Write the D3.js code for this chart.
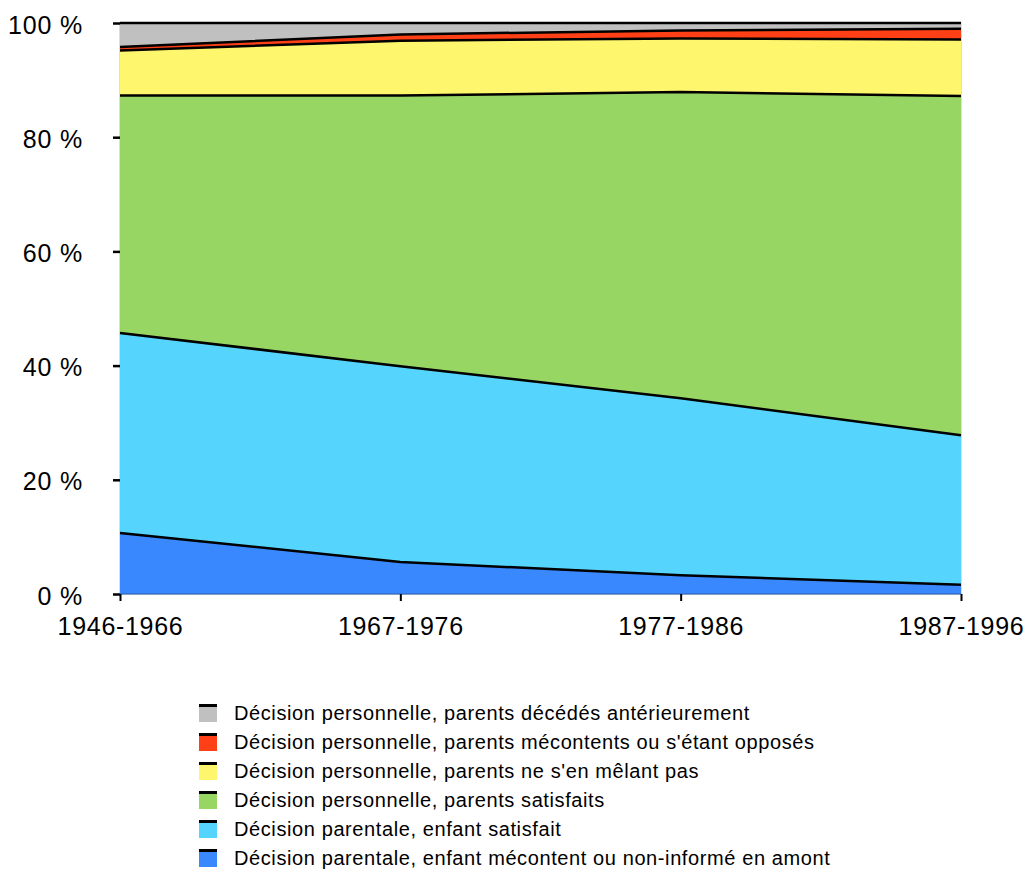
<!DOCTYPE html>
<html>
<head>
<meta charset="utf-8">
<script src="https://cdn.jsdelivr.net/npm/d3@7"></script>
<style>
  body { margin: 0; background: #fff; }
  svg { font-family: "Liberation Sans", Arial, Helvetica, sans-serif; }
</style>
</head>
<body>
<svg></svg>
<script>
// periods on the x axis
const periods = ["1946-1966", "1967-1976", "1977-1986", "1987-1996"];

// series, bottom to top (percent of each period)
const seriesNames = [
    "Décision parentale, enfant mécontent ou non-informé en amont",
    "Décision parentale, enfant satisfait",
    "Décision personnelle, parents satisfaits",
    "Décision personnelle, parents ne s'en mêlant pas",
    "Décision personnelle, parents mécontents ou s'étant opposés",
    "Décision personnelle, parents décédés antérieurement"
];
const parentMecontent = [10.7, 5.6, 3.3, 1.6];
const parentSatisfait = [35.0, 34.3, 31.0, 26.2];
const persoSatisfaits = [41.6, 47.4, 53.6, 59.4];
const persoNeutres = [7.9, 9.6, 9.4, 9.9];
const persoOpposes = [0.6, 1.1, 1.4, 1.9];
const persoDecedes = [4.2, 2.0, 1.3, 1.0];

const yTicks = [0, 20, 40, 60, 80, 100];

const colors = ["#3a88fe", "#55d5fd", "#97d663", "#fef66c", "#ff4016", "#c0c0c0"];

const svgWidth = 1028;
const svgHeight = 871;
const svg = d3.select("svg")
    .attr("width", svgWidth)
    .attr("height", svgHeight);

const margin = {top: 23, left: 120};
const width = 841;
const height = 571;

const g = svg.append("g")
    .attr("transform", "translate(" + margin.left + "," + margin.top + ")");

const x = d3.scalePoint()
    .domain(periods)
    .range([0, width]);

const y = d3.scaleLinear()
    .domain([0, 100])
    .range([height, 0]);

const columns = [parentMecontent, parentSatisfait, persoSatisfaits, persoNeutres, persoOpposes, persoDecedes];
const data = periods.map((p, i) => {
    const row = {period: p};
    seriesNames.forEach((name, k) => row[name] = columns[k][i]);
    return row;
});

const stacked = d3.stack().keys(seriesNames)(data);

const area = d3.area()
    .x(d => x(d.data.period))
    .y0(d => y(d[0]))
    .y1(d => y(d[1]));

const topLine = d3.line()
    .x(d => x(d.data.period))
    .y(d => y(d[1]));

// plot frame (thin grey)
g.append("rect")
    .attr("width", width)
    .attr("height", height)
    .attr("fill", "none")
    .attr("stroke", "#bbb")
    .attr("stroke-width", 1);

g.selectAll(".layer")
    .data(stacked)
    .enter().append("path")
    .attr("class", "layer")
    .attr("d", area)
    .attr("fill", (d, i) => colors[i]);

g.selectAll(".edge")
    .data(stacked)
    .enter().append("path")
    .attr("class", "edge")
    .attr("d", topLine)
    .attr("fill", "none")
    .attr("stroke", "#000")
    .attr("stroke-width", 2.5);

// bottom axis line
g.append("line")
    .attr("x1", 0).attr("x2", width)
    .attr("y1", height).attr("y2", height)
    .attr("stroke", "#2b5fb0")
    .attr("stroke-width", 1);

// x axis
const xAxis = g.append("g")
    .attr("transform", "translate(0," + height + ")")
    .call(d3.axisBottom(x).tickSize(7).tickPadding(16));
xAxis.select(".domain").remove();
xAxis.selectAll("line").attr("stroke", "#000").attr("stroke-width", 2);
xAxis.selectAll("text")
    .attr("font-size", 25)
    .attr("letter-spacing", 0.7)
    .attr("fill", "#000")
    .attr("font-family", "Liberation Sans, Arial, sans-serif");

// y axis
const yAxis = g.append("g")
    .call(d3.axisLeft(y).tickValues(yTicks).tickSize(7).tickPadding(30)
        .tickFormat(d => d + " %"));
yAxis.select(".domain").remove();
yAxis.selectAll("line").attr("stroke", "#000").attr("stroke-width", 2.5);
yAxis.selectAll("text")
    .attr("font-size", 25)
    .attr("letter-spacing", 0.8)
    .attr("fill", "#000")
    .attr("dy", "0.4em")
    .attr("font-family", "Liberation Sans, Arial, sans-serif");

// legend, top entry is the top layer
const legend = svg.append("g")
    .attr("transform", "translate(199,704)")
    .selectAll("g")
    .data(seriesNames.map((n, i) => ({name: n, color: colors[i]})).reverse())
    .enter().append("g")
    .attr("transform", (d, i) => "translate(0," + i * 29 + ")");

legend.append("rect")
    .attr("width", 18)
    .attr("height", 18)
    .attr("fill", d => d.color);

legend.append("rect")
    .attr("width", 18)
    .attr("height", 3)
    .attr("fill", "#000");

legend.append("text")
    .attr("x", 35)
    .attr("y", 9)
    .attr("dy", "0.35em")
    .attr("font-size", 20)
    .attr("letter-spacing", 0.6)
    .attr("fill", "#000")
    .text(d => d.name);
</script>
</body>
</html>
